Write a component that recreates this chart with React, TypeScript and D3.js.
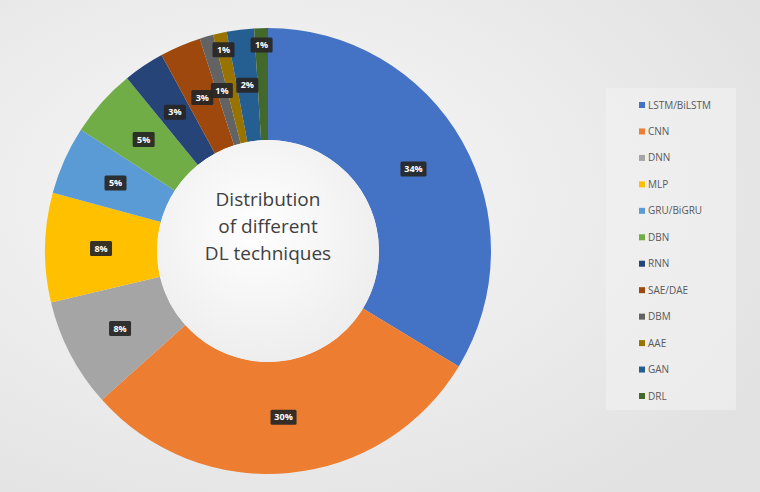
import React, { useEffect, useRef } from 'react';
import * as d3 from 'd3';

// chart data
const techniques = [
  'LSTM/BiLSTM',
  'CNN',
  'DNN',
  'MLP',
  'GRU/BiGRU',
  'DBN',
  'RNN',
  'SAE/DAE',
  'DBM',
  'AAE',
  'GAN',
  'DRL',
];
const shares = [34, 30, 8, 8, 5, 5, 3, 3, 1, 1, 2, 1];
const colors = [
  '#4472C4',
  '#ED7D31',
  '#A5A5A5',
  '#FFC000',
  '#5B9BD5',
  '#70AD47',
  '#264478',
  '#9E480E',
  '#636363',
  '#997300',
  '#255E91',
  '#43682B',
];
const titleLines = ['Distribution', 'of different', 'DL techniques'];

const W = 760;
const H = 492;

export default function App() {
  const ref = useRef<SVGSVGElement>(null);

  useEffect(() => {
    const svg = d3.select(ref.current);
    svg.selectAll('*').remove();

    const defs = svg.append('defs');
    const bg = defs
      .append('radialGradient')
      .attr('id', 'bg')
      .attr('cx', '35%')
      .attr('cy', '40%')
      .attr('r', '75%');
    bg.append('stop').attr('offset', '0%').attr('stop-color', '#f8f8f8');
    bg.append('stop').attr('offset', '100%').attr('stop-color', '#e2e2e2');

    const hole = defs
      .append('radialGradient')
      .attr('id', 'hole')
      .attr('cx', '45%')
      .attr('cy', '40%')
      .attr('r', '65%');
    hole.append('stop').attr('offset', '0%').attr('stop-color', '#ffffff');
    hole.append('stop').attr('offset', '100%').attr('stop-color', '#ececec');

    // background
    svg.append('rect').attr('width', W).attr('height', H).attr('fill', 'url(#bg)');

    const cx = 268;
    const cy = 251;
    const outer = 223;
    const inner = 111;

    const g = svg.append('g').attr('transform', `translate(${cx},${cy})`);

    const pie = d3
      .pie<number>()
      .sort(null)
      .value(d => d);
    const arcs = pie(shares);

    const arc = d3
      .arc<d3.PieArcDatum<number>>()
      .innerRadius(inner)
      .outerRadius(outer);

    g.selectAll('path.slice')
      .data(arcs)
      .enter()
      .append('path')
      .attr('class', 'slice')
      .attr('d', arc)
      .attr('fill', (d, i) => colors[i]);

    // hole
    g.append('circle').attr('r', inner).attr('fill', 'url(#hole)');

    // title in the hole
    const title = g
      .append('text')
      .attr('text-anchor', 'middle')
      .attr('font-family', 'Open Sans, Noto Sans, sans-serif')
      .attr('font-size', 19)
      .attr('fill', '#404040');
    titleLines.forEach((line, i) => {
      title
        .append('tspan')
        .attr('x', 0)
        .attr('y', -45 + i * 27)
        .text(line);
    });

    // labels, small slices alternate between two radii
    const mid = (inner + outer) / 2;
    const total = d3.sum(shares);
    let pushed = false;
    const labelPos = arcs.map((d, i) => {
      const small = d.value / total < 0.015;
      const prevSmall = i > 0 && shares[i - 1] / total < 0.025;
      let r = mid;
      if (small && prevSmall && !pushed) {
        r = outer - 17;
        pushed = true;
      } else {
        pushed = false;
      }
      const a = (d.startAngle + d.endAngle) / 2;
      return [Math.sin(a) * r, -Math.cos(a) * r];
    });

    const labels = g
      .selectAll('g.lbl')
      .data(arcs)
      .enter()
      .append('g')
      .attr('class', 'lbl')
      .attr('transform', (d, i) => `translate(${labelPos[i][0]},${labelPos[i][1]})`);

    labels
      .append('rect')
      .attr('x', d => (d.value >= 10 ? -13 : -11))
      .attr('y', -7.5)
      .attr('width', d => (d.value >= 10 ? 26 : 22))
      .attr('height', 15)
      .attr('rx', 1.5)
      .attr('fill', '#262626')
      .attr('fill-opacity', 0.92);

    labels
      .append('text')
      .attr('text-anchor', 'middle')
      .attr('dy', '0.35em')
      .attr('font-family', 'Open Sans, Noto Sans, sans-serif')
      .attr('font-size', 9)
      .attr('font-weight', 'bold')
      .attr('fill', '#ffffff')
      .text(d => `${d.value}%`);

    // legend
    const legend = svg.append('g').attr('transform', 'translate(606,88)');
    legend
      .append('rect')
      .attr('width', 130)
      .attr('height', 322)
      .attr('fill', '#f2f2f2')
      .attr('fill-opacity', 0.6);

    const y = d3
      .scalePoint<string>()
      .domain(techniques)
      .range([17, 308]);

    const items = legend
      .selectAll('g.item')
      .data(techniques)
      .enter()
      .append('g')
      .attr('class', 'item')
      .attr('transform', d => `translate(36,${y(d)})`);

    items
      .append('rect')
      .attr('x', -3)
      .attr('y', -3)
      .attr('width', 6)
      .attr('height', 6)
      .attr('fill', (d, i) => colors[i]);

    items
      .append('text')
      .attr('x', 6)
      .attr('dy', '0.35em')
      .attr('font-family', 'Open Sans, Noto Sans, sans-serif')
      .attr('font-size', 10)
      .attr('fill', '#595959')
      .text(d => d);
  }, []);

  return (
    <svg
      ref={ref}
      width={W}
      height={H}
      style={{ position: 'absolute', left: 0, top: 0, display: 'block' }}
    />
  );
}
